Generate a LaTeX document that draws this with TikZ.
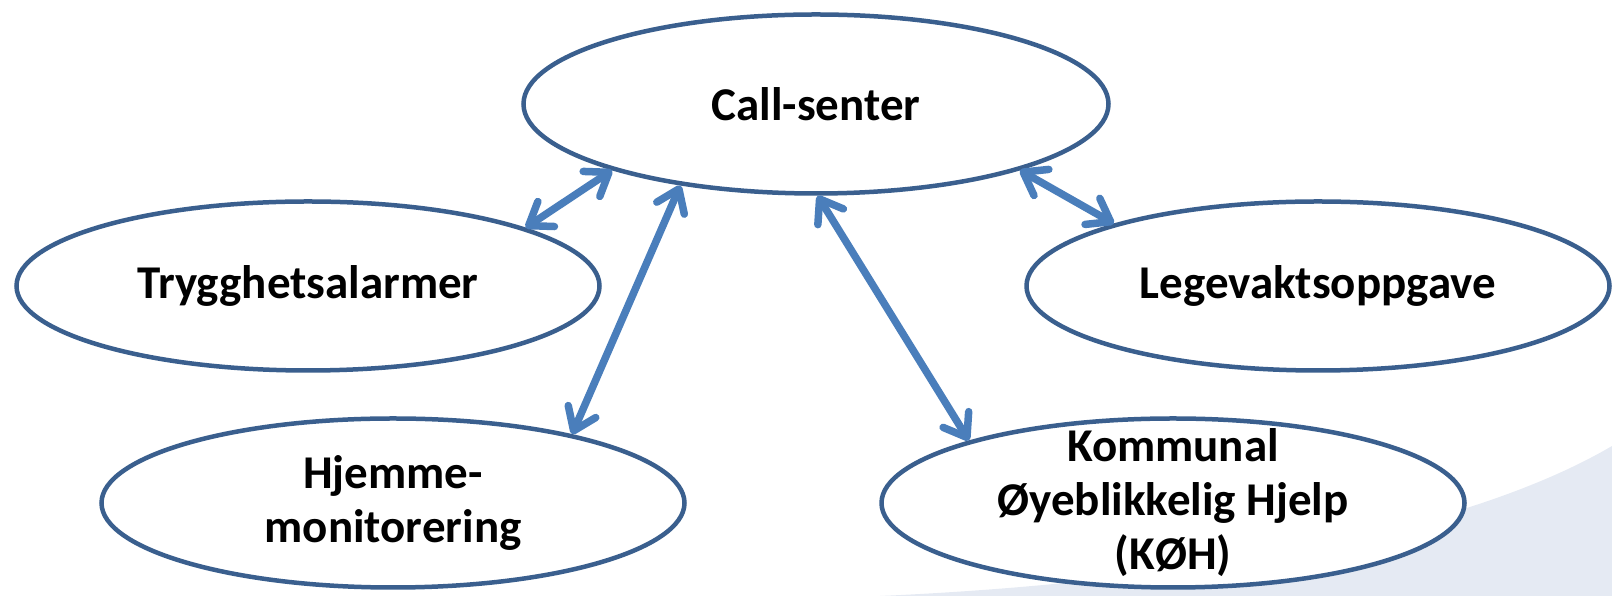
\documentclass[tikz,border=0pt]{standalone}
\usepackage{fontspec}
\setmainfont{Carlito}
\usetikzlibrary{arrows.meta,shapes.geometric}
\definecolor{rim}{HTML}{3A5F8E}
\definecolor{linkblue}{HTML}{4A7EBB}
\definecolor{swoosh}{HTML}{E5EAF3}
\begin{document}
\begin{tikzpicture}[x=1pt,y=1pt,
  bubble/.style={ellipse, draw=rim, line width=4.5pt, fill=white, inner sep=0pt,
    minimum width=583pt, minimum height=169pt},
  txt/.style={font=\fontsize{47}{54}\selectfont\bfseries, align=center, text=black},
  barb/.tip={Straight Barb[length=21pt,width=30pt,round]},
  conn/.style={draw=linkblue, line width=7.5pt, line cap=round, barb-barb}]
\useasboundingbox (0,0) rectangle (1612,596);
% pale background sweep in the lower right corner
\fill[swoosh] (880,0) .. controls (1150,12) and (1450,55) .. (1612,150) -- (1612,0) -- cycle;

% the five services
\node[bubble, minimum width=585pt, minimum height=179pt,
      label={[txt]center:Call-senter}] (call) at (816,492) {};
\node[bubble, label={[txt]center:Trygghetsalarmer}] (tryg) at (308,310) {};
\node[bubble, label={[txt]center:Legevaktsoppgave}] (lege) at (1318,310) {};
\node[bubble, label={[txt]center:{Hjemme-\\monitorering}}] (hjem) at (393,93) {};
\node[bubble, label={[txt]center:{Kommunal\\Øyeblikkelig Hjelp\\(KØH)}}] (koh) at (1173,93) {};

% two-way links to the call centre
\draw[conn] (tryg.15) -- (call.198);
\draw[conn] (hjem.21) -- (call.211);
\draw[conn] (call.271) -- (koh.163);
\draw[conn] (call.342) -- (lege.163);
\end{tikzpicture}
\end{document}
